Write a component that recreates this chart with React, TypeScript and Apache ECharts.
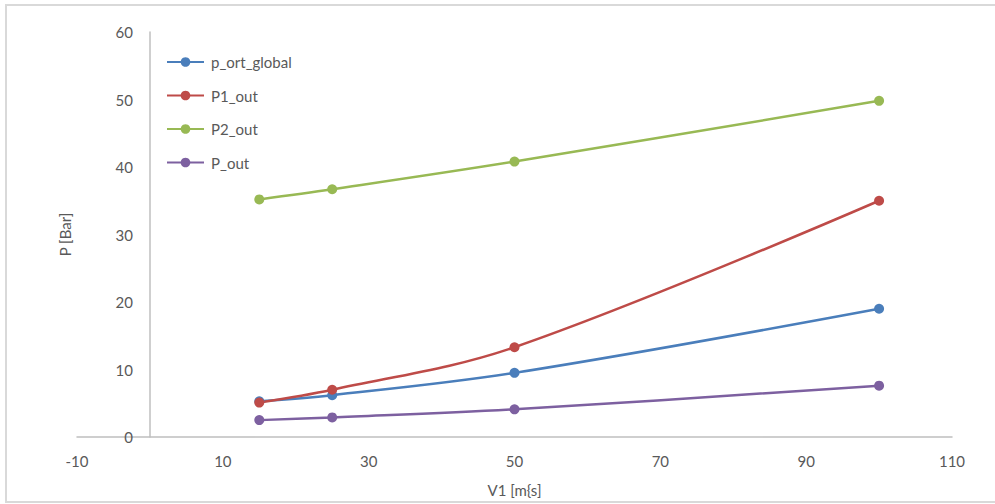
import React, { useEffect, useRef } from "react";
import * as echarts from "echarts";

const xValues = [15, 25, 50, 100];
const seriesNames = ["p_ort_global", "P1_out", "P2_out", "P_out"];
const pOrtGlobal = [5.3, 6.2, 9.5, 19.0];
const p1Out = [5.1, 7.0, 13.3, 35.0];
const p2Out = [35.2, 36.7, 40.8, 49.8];
const pOut = [2.5, 2.9, 4.1, 7.6];
const colors = ["#4a7ebb", "#be4b48", "#98b954", "#7d60a0"];

const FONT = "Lato";
const GRID_LEFT = 77;
const GRID_RIGHT = 43;
const WIDTH = 995;
const X_MIN = -10;
const X_MAX = 110;

export default function App() {
  const ref = useRef<HTMLDivElement>(null);
  useEffect(() => {
    if (!ref.current) return;
    const chart = echarts.init(ref.current, undefined, { renderer: "svg" });
    const allData = [pOrtGlobal, p1Out, p2Out, pOut];
    const plotW = WIDTH - GRID_LEFT - GRID_RIGHT;
    // shift the y axis (line, labels, title) to sit at x = 0 like the reference
    const yOffset = -((0 - X_MIN) / (X_MAX - X_MIN)) * plotW;
    chart.setOption({
      animation: false,
      backgroundColor: "#ffffff",
      graphic: [
        {
          type: "rect",
          shape: { x: 6, y: 5, width: 1000, height: 497 },
          style: { fill: "none", stroke: "#d9d9d9", lineWidth: 2 },
          silent: true,
        },
      ],
      grid: { left: GRID_LEFT, right: GRID_RIGHT, top: 32, bottom: 67 },
      legend: {
        orient: "vertical",
        left: 166,
        top: 54,
        padding: 0,
        itemWidth: 37,
        itemHeight: 12,
        itemGap: 17.5,
        data: seriesNames,
        textStyle: {
          fontFamily: FONT,
          fontSize: 15,
          color: "#595959",
          lineHeight: 16,
          padding: [0, 0, 0, 2],
        },
      },
      xAxis: {
        type: "value",
        min: X_MIN,
        max: X_MAX,
        interval: 20,
        name: "V1 [m{s]",
        nameLocation: "middle",
        nameGap: 45,
        nameTextStyle: { fontFamily: FONT, fontSize: 15, color: "#595959" },
        axisLine: { lineStyle: { color: "#bfbfbf", width: 1.5 } },
        axisTick: { show: false },
        splitLine: { show: false },
        axisLabel: { fontFamily: FONT, fontSize: 15, color: "#595959", margin: 16 },
      },
      yAxis: {
        type: "value",
        min: 0,
        max: 60,
        interval: 10,
        offset: yOffset,
        name: "P [Bar]",
        nameLocation: "middle",
        nameGap: 77,
        nameTextStyle: { fontFamily: FONT, fontSize: 15, color: "#595959" },
        axisLine: { show: true, onZero: false, lineStyle: { color: "#bfbfbf", width: 1.5 } },
        axisTick: { show: false },
        splitLine: { show: false },
        axisLabel: { fontFamily: FONT, fontSize: 15, color: "#595959", margin: 17 },
      },
      series: seriesNames.map((name, i) => ({
        name,
        type: "line",
        smooth: 0.35,
        symbol: "circle",
        symbolSize: 10,
        color: colors[i],
        lineStyle: { width: 2.5, color: colors[i] },
        itemStyle: { color: colors[i] },
        data: xValues.map((x, j) => [x, allData[i][j]]),
      })),
    });
    return () => chart.dispose();
  }, []);
  return (
    <div
      ref={ref}
      style={{ position: "fixed", left: 0, top: 0, width: 995, height: 504 }}
    />
  );
}
